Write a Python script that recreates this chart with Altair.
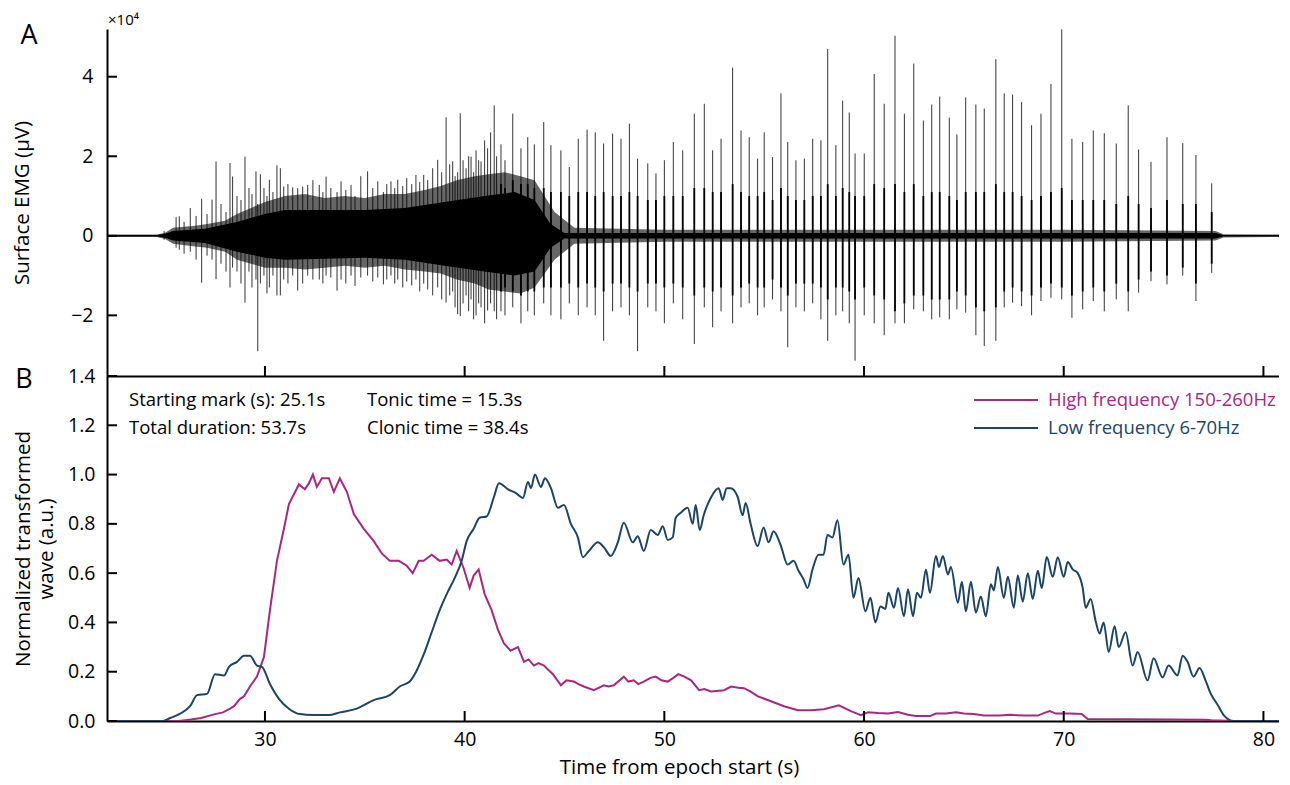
import altair as alt
import pandas as pd

# ---------------- data ----------------
X_TICKS = [30, 40, 50, 60, 70, 80]
YA_TICKS = [-2, 0, 2, 4]
YB_TICKS = [0.0, 0.2, 0.4, 0.6, 0.8, 1.0, 1.2, 1.4]

# Panel A: surface EMG (units of 1e4 uV)
# outer (grey fuzz) envelope of the dense trace (t, upper, lower)
OUTER_ENV = [
    (22.09, 0.03, -0.03), (24.6, 0.03, -0.03), (25.0, 0.08, -0.08), (25.4, 0.2, -0.2),
    (26.5, 0.25, -0.27), (27.1, 0.3, -0.3), (28.0, 0.38, -0.4), (28.6, 0.55, -0.6),
    (29.3, 0.7, -0.7), (30.0, 0.85, -0.8), (31.0, 1.0, -0.8), (32.0, 1.05, -0.85),
    (33.0, 0.95, -0.8), (34.0, 1.0, -0.75), (35.0, 0.95, -0.8), (36.0, 1.05, -0.75),
    (37.0, 1.05, -0.85), (38.0, 1.15, -0.9), (38.8, 1.25, -0.95), (39.6, 1.4, -1.1),
    (40.5, 1.5, -1.2), (41.2, 1.55, -1.35), (42.0, 1.6, -1.4), (42.8, 1.5, -1.45),
    (43.5, 1.4, -1.3), (44.5, 0.6, -0.6), (45.5, 0.2, -0.2), (50.0, 0.15, -0.15),
    (60.0, 0.15, -0.15), (70.0, 0.15, -0.15), (77.6, 0.12, -0.12), (78.0, 0.04, -0.04),
    (81.0, 0.03, -0.03),
]
# inner (solid black) envelope (t, upper, lower)
INNER_ENV = [
    (22.09, 0.02, -0.02), (24.6, 0.02, -0.02), (25.0, 0.05, -0.05), (25.4, 0.12, -0.12),
    (27.0, 0.18, -0.18), (28.6, 0.35, -0.4), (30.0, 0.55, -0.55), (31.0, 0.65, -0.6),
    (35.0, 0.65, -0.55), (37.0, 0.7, -0.6), (39.0, 0.85, -0.75), (41.0, 1.0, -0.9),
    (42.5, 1.1, -1.0), (43.5, 0.9, -0.9), (44.3, 0.3, -0.3), (45.0, 0.07, -0.07),
    (77.6, 0.07, -0.07), (78.0, 0.02, -0.02), (81.0, 0.02, -0.02),
]

# tonic-phase spikes (t, top, bottom)
TONIC_SPIKES = [
    (24.95, 0.12, -0.1), (25.55, 0.47, -0.3), (25.71, 0.49, -0.35), (25.95, 0.35, -0.45),
    (26.26, 0.70, -0.4), (26.55, 0.5, -0.6), (26.83, 0.93, -1.18), (27.1, 0.55, -0.5),
    (27.35, 0.91, -0.6), (27.55, 1.87, -1.09), (27.8, 0.8, -0.7), (28.05, 0.6, -0.9),
    (28.25, 1.83, -1.3), (28.38, 1.49, -0.8), (28.6, 1.0, -0.9), (28.8, 0.9, -1.2),
    (29.0, 1.99, -1.68), (29.2, 1.2, -0.9), (29.35, 1.05, -1.3), (29.55, 1.62, -1.1),
    (29.64, 0.8, -2.9), (29.77, 1.55, -1.2), (29.95, 1.2, -1.0), (30.1, 1.0, -1.45),
    (30.22, 1.41, -1.3), (30.4, 1.1, -1.0), (30.6, 1.77, -1.5), (30.77, 1.70, -1.5),
    (30.94, 1.24, -1.1), (31.15, 1.3, -1.2), (31.39, 1.22, -1.0), (31.64, 1.2, -1.38),
    (31.89, 1.24, -1.2), (32.14, 1.28, -1.0), (32.4, 1.4, -1.1), (32.72, 1.28, -1.1),
    (32.9, 1.1, -1.2), (33.06, 1.49, -1.0), (33.3, 1.2, -1.05), (33.61, 1.1, -1.38),
    (33.81, 1.37, -1.1), (34.05, 1.15, -1.2), (34.31, 1.28, -1.0), (34.51, 1.0, -1.26),
    (34.8, 1.5, -1.05), (35.14, 1.62, -1.0), (35.4, 1.2, -1.15), (35.65, 1.37, -1.05),
    (35.93, 1.1, -1.22), (36.1, 1.3, -1.1), (36.31, 1.37, -1.0), (36.5, 1.2, -1.2),
    (36.65, 1.41, -1.1), (36.9, 1.25, -1.3), (37.1, 1.45, -1.15), (37.35, 1.3, -1.25),
    (37.56, 1.53, -1.1), (37.75, 1.35, -1.4), (37.95, 1.53, -1.2), (38.15, 1.4, -1.35),
    (38.4, 1.70, -1.5), (38.65, 1.91, -1.3), (38.85, 1.6, -1.6), (39.07, 2.98, -1.68),
    (39.25, 1.8, -1.5), (39.4, 1.87, -1.4), (39.52, 1.5, -1.8), (39.65, 1.6, -1.97),
    (39.78, 3.08, -2.02), (39.92, 1.9, -1.7), (40.07, 1.70, -1.5), (40.2, 2.0, -1.9),
    (40.32, 1.99, -1.6), (40.45, 1.6, -2.1), (40.57, 2.15, -2.0), (40.7, 1.9, -1.7),
    (40.82, 1.87, -1.8), (41.0, 2.4, -2.2), (41.15, 2.2, -1.88), (41.3, 2.6, -1.7),
    (41.48, 3.28, -1.9), (41.6, 2.0, -2.1),
]

# clonic bursts (t, top, bottom, core top, core bottom)
CLONIC_BURSTS = [
    (41.82, 2.3, -1.9, 1.3, -1.4), (42.02, 1.9, -2.0, 1.2, -1.3), (42.41, 3.07, -1.8, 1.4, -1.4),
    (42.82, 2.2, -2.2, 1.3, -1.5), (43.16, 2.48, -1.9, 1.3, -1.4), (43.49, 2.3, -2.0, 1.2, -1.4),
    (43.96, 2.86, -1.7, 1.2, -1.3), (44.32, 2.28, -2.0, 1.1, -1.3), (44.82, 2.15, -2.1, 1.1, -1.3),
    (45.24, 1.73, -1.7, 1.0, -1.2), (45.69, 2.44, -2.0, 1.1, -1.3), (46.13, 2.67, -1.8, 1.1, -1.2),
    (46.54, 2.6, -2.0, 1.0, -1.3), (46.96, 2.32, -2.64, 1.1, -1.4), (47.41, 2.57, -1.9, 1.0, -1.2),
    (47.83, 2.44, -1.8, 1.0, -1.2), (48.25, 2.82, -2.0, 1.1, -1.3), (48.66, 1.94, -2.9, 1.0, -1.4),
    (49.17, 1.82, -1.8, 0.9, -1.2), (49.58, 1.57, -1.9, 0.9, -1.2), (50.0, 1.9, -2.2, 1.0, -1.3),
    (50.45, 2.36, -1.7, 1.0, -1.2), (50.92, 2.15, -2.1, 1.0, -1.3), (51.5, 3.07, -2.72, 1.2, -1.5),
    (52.0, 3.32, -1.8, 1.2, -1.3), (52.42, 2.15, -2.3, 1.1, -1.4), (52.84, 2.44, -1.9, 1.1, -1.3),
    (53.42, 4.23, -2.2, 1.3, -1.5), (53.84, 2.65, -1.8, 1.1, -1.3), (54.25, 2.48, -1.7, 1.0, -1.2),
    (54.67, 1.94, -2.0, 1.0, -1.3), (55.0, 2.6, -1.8, 1.1, -1.3), (55.42, 1.98, -1.6, 0.9, -1.1),
    (55.84, 3.58, -1.9, 1.2, -1.3), (56.18, 2.36, -2.8, 1.0, -1.5), (56.59, 1.9, -1.8, 0.9, -1.2),
    (57.01, 1.94, -1.9, 0.9, -1.2), (57.43, 2.44, -1.7, 1.0, -1.2), (57.84, 2.4, -2.1, 1.0, -1.3),
    (58.18, 4.7, -2.64, 1.3, -1.6), (58.59, 2.28, -2.0, 1.0, -1.3), (58.93, 3.4, -1.9, 1.2, -1.3),
    (59.26, 3.1, -2.2, 1.1, -1.4), (59.55, 2.07, -3.14, 1.0, -1.6), (60.01, 2.07, -2.0, 1.0, -1.3),
    (60.51, 4.07, -2.2, 1.3, -1.5), (61.01, 3.32, -2.5, 1.2, -1.6),
    (61.55, 5.03, -2.2, 1.3, -1.9), (62.02, 3.07, -2.2, 1.1, -1.7), (62.49, 4.33, -1.85, 1.3, -1.5),
    (62.97, 2.9, -1.9, 1.0, -1.5), (63.39, 3.3, -2.1, 1.1, -1.6), (63.79, 3.5, -2.05, 1.1, -1.6),
    (64.27, 2.97, -2.1, 1.0, -1.6), (64.65, 2.55, -1.85, 0.9, -1.4), (65.09, 3.48, -1.93, 1.1, -1.5),
    (65.6, 3.3, -2.5, 1.1, -1.8), (66.02, 3.2, -2.77, 1.1, -1.9), (66.6, 4.44, -2.64, 1.3, -1.8),
    (67.02, 3.58, -1.8, 1.1, -1.4), (67.44, 3.55, -1.68, 1.1, -1.3), (67.89, 3.36, -1.77, 1.0, -1.4),
    (68.39, 2.78, -2.0, 0.9, -1.5), (68.86, 3.07, -1.64, 1.0, -1.3), (69.36, 3.82, -1.56, 1.1, -1.2),
    (69.9, 5.19, -1.6, 1.2, -1.3), (70.41, 2.44, -2.06, 0.9, -1.5), (70.95, 2.36, -1.85, 0.9, -1.4),
    (71.48, 2.65, -1.64, 0.9, -1.3), (72.03, 2.58, -1.9, 0.9, -1.4), (72.63, 2.32, -1.6, 0.8, -1.2),
    (73.23, 3.28, -1.9, 1.0, -1.4), (73.75, 2.17, -1.43, 0.8, -1.1), (74.37, 1.86, -1.14, 0.7, -0.9),
    (75.17, 2.48, -1.22, 0.9, -1.0), (75.96, 2.33, -1.0, 0.8, -0.8), (76.62, 2.03, -1.64, 0.8, -1.2),
    (77.41, 1.32, -0.93, 0.6, -0.7),
]

# Panel B: normalized transformed waves (t, value)
HIGH_FREQ = [
    (22.09, 0.0), (25.7, 0.0), (26.3, 0.006), (26.8, 0.012), (27.45, 0.027), (27.9, 0.035),
    (28.25, 0.05), (28.45, 0.06), (28.75, 0.09), (28.95, 0.1), (29.25, 0.14), (29.6, 0.18),
    (29.95, 0.26), (30.25, 0.45), (30.6, 0.65), (30.95, 0.78), (31.2, 0.88), (31.45, 0.92),
    (31.7, 0.96), (32.0, 0.94), (32.2, 0.965), (32.4, 1.0), (32.6, 0.95), (32.85, 0.985),
    (33.2, 0.985), (33.45, 0.93), (33.75, 0.985), (34.1, 0.93), (34.45, 0.84), (34.95, 0.78),
    (35.45, 0.73), (35.85, 0.68), (36.25, 0.65), (36.7, 0.65), (37.1, 0.63), (37.4, 0.60),
    (37.7, 0.65), (37.95, 0.65), (38.35, 0.675), (38.75, 0.65), (39.1, 0.655), (39.35, 0.635),
    (39.6, 0.69), (39.95, 0.62), (40.25, 0.54), (40.45, 0.59), (40.7, 0.615), (41.0, 0.515),
    (41.35, 0.45), (41.67, 0.37), (41.97, 0.315), (42.3, 0.285), (42.67, 0.30), (42.97, 0.24),
    (43.2, 0.25), (43.47, 0.225), (43.7, 0.235), (43.97, 0.225), (44.42, 0.19), (44.82, 0.145),
    (45.1, 0.165), (45.47, 0.16), (45.7, 0.15), (45.97, 0.14), (46.47, 0.125), (46.97, 0.145),
    (47.2, 0.14), (47.47, 0.145), (47.97, 0.18), (48.2, 0.16), (48.47, 0.165), (48.7, 0.15),
    (48.97, 0.16), (49.3, 0.175), (49.57, 0.18), (49.85, 0.165), (50.17, 0.16), (50.45, 0.175),
    (50.7, 0.19), (51.0, 0.18), (51.34, 0.165), (51.74, 0.125), (52.0, 0.13), (52.34, 0.12),
    (52.99, 0.125), (53.34, 0.14), (53.7, 0.135), (53.99, 0.133), (54.3, 0.12), (54.69, 0.10),
    (55.34, 0.08), (55.99, 0.06), (56.69, 0.044), (57.34, 0.044), (57.99, 0.048), (58.74, 0.064),
    (59.34, 0.04), (59.84, 0.024), (60.2, 0.035), (60.7, 0.032), (61.2, 0.03), (61.7, 0.036),
    (62.2, 0.025), (62.6, 0.02), (63.3, 0.02), (63.6, 0.03), (64.1, 0.03), (64.6, 0.035),
    (65.0, 0.03), (65.5, 0.028), (66.0, 0.022), (66.8, 0.022), (67.3, 0.025), (68.0, 0.022),
    (68.7, 0.022), (69.1, 0.035), (69.3, 0.04), (69.6, 0.03), (70.3, 0.03), (70.9, 0.028),
    (71.2, 0.008), (77.1, 0.005), (77.4, 0.003), (78.5, 0.0), (81.0, 0.0),
]

LOW_FREQ = [
    (22.09, 0.0), (24.9, 0.0), (25.25, 0.012), (25.75, 0.03), (26.25, 0.06), (26.6, 0.105),
    (27.1, 0.11), (27.5, 0.19), (27.95, 0.185), (28.2, 0.22), (28.6, 0.24), (28.95, 0.265),
    (29.25, 0.265), (29.6, 0.225), (29.85, 0.22), (30.25, 0.15), (30.7, 0.09), (31.2, 0.05),
    (31.75, 0.028), (32.4, 0.024), (33.2, 0.024), (33.75, 0.035), (34.6, 0.05), (35.45, 0.085),
    (36.25, 0.105), (36.75, 0.14), (37.25, 0.16), (37.6, 0.205), (37.95, 0.27), (38.35, 0.36),
    (38.75, 0.45), (39.1, 0.515), (39.5, 0.58), (39.85, 0.65), (40.1, 0.73), (40.45, 0.78),
    (40.75, 0.825), (41.1, 0.83), (41.45, 0.905), (41.72, 0.965), (42.17, 0.94), (42.57, 0.925),
    (42.92, 0.905), (43.17, 0.97), (43.32, 0.945), (43.52, 1.0), (43.82, 0.95), (44.02, 0.985),
    (44.32, 0.945), (44.67, 0.865), (44.97, 0.877), (45.32, 0.80), (45.67, 0.745), (45.92, 0.665),
    (46.22, 0.69), (46.67, 0.725), (46.97, 0.705), (47.32, 0.67), (47.67, 0.725), (47.97, 0.805),
    (48.42, 0.725), (48.67, 0.75), (48.97, 0.69), (49.32, 0.775), (49.67, 0.755), (49.92, 0.79),
    (50.17, 0.735), (50.42, 0.745), (50.57, 0.825), (50.82, 0.845), (51.17, 0.865), (51.42, 0.80),
    (51.57, 0.877), (51.77, 0.775), (51.97, 0.835), (52.32, 0.905), (52.72, 0.945), (52.92, 0.897),
    (53.12, 0.945), (53.32, 0.945), (53.67, 0.91), (53.92, 0.835), (54.07, 0.885), (54.32, 0.80),
    (54.67, 0.71), (54.97, 0.785), (55.22, 0.725), (55.47, 0.77), (55.82, 0.715), (56.17, 0.635),
    (56.47, 0.65), (56.72, 0.61), (56.97, 0.575), (57.17, 0.54), (57.42, 0.615), (57.72, 0.675),
    (57.97, 0.675), (58.17, 0.755), (58.42, 0.745), (58.67, 0.815), (58.97, 0.635), (59.22, 0.675),
    (59.47, 0.50), (59.72, 0.58), (60.07, 0.445), (60.32, 0.50), (60.57, 0.40), (60.82, 0.465),
    (61.07, 0.455), (61.22, 0.52), (61.5, 0.46), (61.7, 0.54), (62.0, 0.425), (62.2, 0.535),
    (62.45, 0.425), (62.65, 0.52), (62.85, 0.50), (63.1, 0.615), (63.3, 0.52), (63.6, 0.67),
    (63.75, 0.625), (63.95, 0.67), (64.2, 0.595), (64.35, 0.625), (64.7, 0.48), (64.9, 0.565),
    (65.1, 0.445), (65.35, 0.565), (65.6, 0.44), (65.85, 0.505), (66.1, 0.425), (66.35, 0.555),
    (66.5, 0.53), (66.7, 0.625), (67.0, 0.50), (67.2, 0.585), (67.5, 0.46), (67.7, 0.59),
    (67.95, 0.485), (68.2, 0.60), (68.45, 0.495), (68.7, 0.61), (68.9, 0.54), (69.15, 0.665),
    (69.45, 0.585), (69.7, 0.665), (70.0, 0.585), (70.2, 0.645), (70.45, 0.615), (70.7, 0.60),
    (70.95, 0.54), (71.1, 0.46), (71.35, 0.495), (71.6, 0.405), (71.8, 0.355), (72.0, 0.40),
    (72.25, 0.28), (72.55, 0.385), (72.75, 0.30), (73.1, 0.36), (73.45, 0.225), (73.7, 0.28),
    (74.2, 0.165), (74.5, 0.255), (74.95, 0.177), (75.25, 0.225), (75.7, 0.185), (75.95, 0.265),
    (76.2, 0.24), (76.5, 0.18), (76.8, 0.215), (77.1, 0.165), (77.35, 0.113), (77.75, 0.06),
    (78.0, 0.025), (78.5, 0.0), (81.0, 0.0),
]

ANNOT_LEFT = ["Starting mark (s): 25.1s", "Total duration: 53.7s"]
ANNOT_RIGHT = ["Tonic time = 15.3s", "Clonic time = 38.4s"]
LEGEND_LABELS = ["High frequency 150-260Hz", "Low frequency 6-70Hz"]

# ---------------- styling ----------------
X_DOMAIN = [22.09, 80.78]
YA_DOMAIN = [-3.525, 5.2]
YB_DOMAIN = [0.0, 1.4]
W, HA, HB = 1172, 347, 345
FONT = "Open Sans"
MAG = "#a8287f"
NAVY = "#1b4566"
TICK = 10
LAB_FS = 19.5
TITLE_FS = 20.5
TXT_FS = 18.5

x_scale = alt.Scale(domain=X_DOMAIN, nice=False, zero=False)
ya_scale = alt.Scale(domain=YA_DOMAIN, nice=False, zero=False)
yb_scale = alt.Scale(domain=YB_DOMAIN, nice=False, zero=False)

xa_axis = alt.Axis(labels=False, ticks=False, grid=False, domainWidth=2)
xb_axis = alt.Axis(values=X_TICKS, ticks=False, grid=False, labelPadding=9,
                   title="Time from epoch start (s)", titleX=572, titleY=46,
                   titleBaseline="middle", domainWidth=2)
ya_axis = alt.Axis(values=YA_TICKS, ticks=False, grid=False, labelPadding=14,
                   title="Surface EMG (μV)", titleX=-85, titleY=HA / 2, titleAngle=-90,
                   titleAlign="center", titleBaseline="middle", domainWidth=2)
yb_axis = alt.Axis(values=YB_TICKS, ticks=False, grid=False, labelPadding=12, format=".1f",
                   title=["Normalized transformed", "wave (a.u.)"], titleX=-84, titleY=HB / 2,
                   titleAngle=-90, titleAlign="center", titleBaseline="middle",
                   titleLineHeight=23, domainWidth=2)


def XA(f):
    return alt.X(f, type="quantitative", scale=x_scale, axis=xa_axis, title=None)


def XB(f):
    return alt.X(f, type="quantitative", scale=x_scale, axis=xb_axis)


def YA(f):
    return alt.Y(f, type="quantitative", scale=ya_scale, axis=ya_axis)


def YB(f):
    return alt.Y(f, type="quantitative", scale=yb_scale, axis=yb_axis)


outer_df = pd.DataFrame(OUTER_ENV, columns=["t", "hi", "lo"])
inner_df = pd.DataFrame(INNER_ENV, columns=["t", "hi", "lo"])
tonic_df = pd.DataFrame(TONIC_SPIKES, columns=["t", "hi", "lo"])
clonic_df = pd.DataFrame(CLONIC_BURSTS, columns=["t", "hi", "lo", "chi", "clo"])
hf_df = pd.DataFrame(HIGH_FREQ, columns=["t", "v"])
lf_df = pd.DataFrame(LOW_FREQ, columns=["t", "v"])
xt_df = pd.DataFrame({"t": X_TICKS})
yat_df = pd.DataFrame({"v": YA_TICKS})
ybt_df = pd.DataFrame({"v": YB_TICKS})


def label(text, **kw):
    return alt.Chart(pd.DataFrame({"label": [text]})).mark_text(font=FONT, **kw).encode(text="label:N")


# ---------------- Panel A ----------------
a_outer = alt.Chart(outer_df).mark_area(color="black", opacity=0.6, clip=True).encode(
    x=XA("t"), y=YA("lo"), y2="hi")
a_inner = alt.Chart(inner_df).mark_area(color="black", clip=True).encode(
    x=XA("t"), y=YA("lo"), y2="hi")
a_spk = alt.Chart(tonic_df).mark_rule(color="black", strokeWidth=1.0, opacity=0.8, clip=True).encode(
    x=XA("t"), y=YA("lo"), y2="hi")
a_cl = alt.Chart(clonic_df).mark_rule(color="black", strokeWidth=1.0, opacity=0.8, clip=True).encode(
    x=XA("t"), y=YA("lo"), y2="hi")
a_clc = alt.Chart(clonic_df).mark_rule(color="black", strokeWidth=1.8, clip=True).encode(
    x=XA("t"), y=YA("clo"), y2="chi")
a_xt = alt.Chart(xt_df).mark_rule(color="black", strokeWidth=2).encode(
    x=XA("t"), y=alt.value(HA), y2=alt.value(HA - TICK))
a_yt = alt.Chart(yat_df).mark_rule(color="black", strokeWidth=2).encode(
    y=YA("v"), x=alt.value(0), x2=alt.value(TICK))
a_exp = label("×10⁴", fontSize=15, align="left", baseline="middle").encode(x=alt.value(1), y=alt.value(-9))
a_lab = label("A", fontSize=27, align="center", baseline="alphabetic").encode(x=alt.value(-78), y=alt.value(15))

panel_a = alt.layer(a_outer, a_inner, a_spk, a_cl, a_clc, a_xt, a_yt, a_exp, a_lab).properties(
    width=W, height=HA)

# ---------------- Panel B ----------------
b_hf = alt.Chart(hf_df).mark_line(color=MAG, strokeWidth=2, clip=True).encode(x=XB("t"), y=YB("v"))
b_lf = alt.Chart(lf_df).mark_line(color=NAVY, strokeWidth=2, clip=True, interpolate="monotone").encode(
    x=XB("t"), y=YB("v"))
b_xt = alt.Chart(xt_df).mark_rule(color="black", strokeWidth=2).encode(
    x=XB("t"), y=alt.value(HB), y2=alt.value(HB - TICK))
b_yt = alt.Chart(ybt_df).mark_rule(color="black", strokeWidth=2).encode(
    y=YB("v"), x=alt.value(0), x2=alt.value(TICK))
b_lab = label("B", fontSize=27, align="center", baseline="alphabetic").encode(x=alt.value(-83), y=alt.value(12))

ann = []
for i, txt in enumerate(ANNOT_LEFT):
    ann.append(label(txt, fontSize=TXT_FS, align="left", baseline="middle").encode(
        x=alt.value(22), y=alt.value(24 + 28 * i)))
for i, txt in enumerate(ANNOT_RIGHT):
    ann.append(label(txt, fontSize=TXT_FS, align="left", baseline="middle").encode(
        x=alt.value(260), y=alt.value(24 + 28 * i)))

leg = []
for i, (txt, col) in enumerate(zip(LEGEND_LABELS, [MAG, NAVY])):
    leg.append(alt.Chart(pd.DataFrame({"label": [txt]})).mark_rule(color=col, strokeWidth=2).encode(
        x=alt.value(867), x2=alt.value(931), y=alt.value(24 + 28 * i)))
    leg.append(label(txt, fontSize=TXT_FS, align="left", baseline="middle", color=col).encode(
        x=alt.value(941), y=alt.value(24 + 28 * i)))

panel_b = alt.layer(b_hf, b_lf, b_xt, b_yt, b_lab, *ann, *leg).properties(width=W, height=HB)

chart = alt.vconcat(panel_a, panel_b, spacing=0, bounds="flush").properties(
    padding={"left": 4, "right": 0, "top": 5, "bottom": 0}
).configure_view(strokeWidth=0).configure_axis(
    domainColor="black", labelColor="black", titleColor="black",
    labelFont=FONT, titleFont=FONT, labelFontSize=LAB_FS, titleFontSize=TITLE_FS,
    titleFontWeight="normal",
)

chart.save("out.html", embed_options={"renderer": "svg", "actions": False})
